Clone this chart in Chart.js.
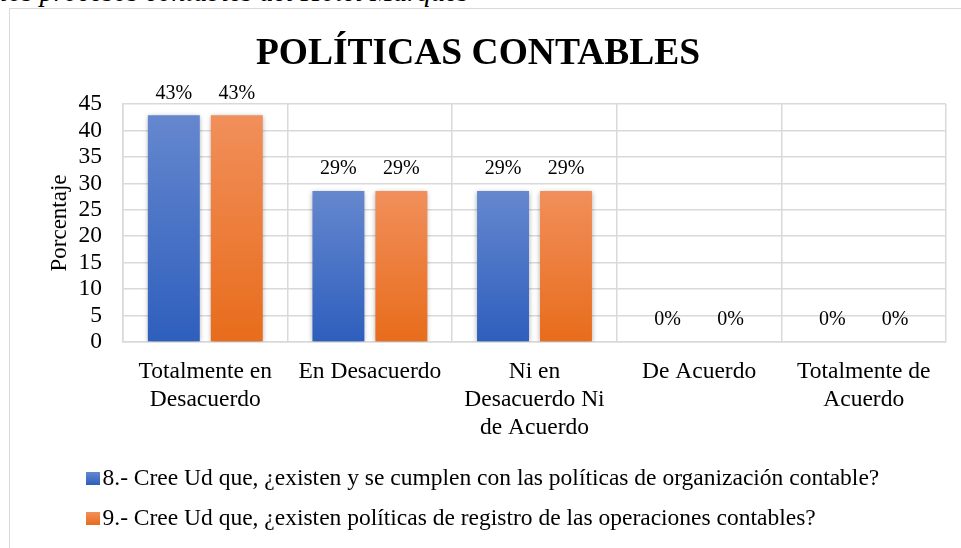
<!DOCTYPE html>
<html>
<head>
<meta charset="utf-8">
<title>Políticas contables</title>
<script src="https://cdn.jsdelivr.net/npm/chart.js"></script>
<style>
  body { margin: 0; background: #fff; overflow: hidden; width: 961px; height: 548px; position: relative; }
  .caption { position: absolute; left: 0; top: -23px; font: italic 28px/30px "Liberation Serif", "Times New Roman", serif; color: #000; white-space: nowrap; }
  .frame { position: absolute; left: 9px; top: 8px; width: 1000px; height: 600px; border: 1px solid #d9d9d9; background: #fff; }
  .chart_box { position: absolute; left: 10px; top: 9px; width: 965px; height: 539px; }
</style>
</head>
<body>
<div class="caption">los procesos contables del Hotel Marqués</div>
<div class="frame"></div>
<div class="chart_box"><canvas id="myChart"></canvas></div>

<script>
const categories = [
  ['Totalmente en', 'Desacuerdo'],
  'En Desacuerdo',
  ['Ni en', 'Desacuerdo Ni', 'de Acuerdo'],
  'De Acuerdo',
  ['Totalmente de', 'Acuerdo']
];
const seriesNames = [
  '8.- Cree Ud que, ¿existen y se cumplen con las políticas de organización contable?',
  '9.- Cree Ud que, ¿existen políticas de registro de las operaciones contables?'
];
const pregunta8 = [42.86, 28.57, 28.57, 0, 0];
const pregunta9 = [42.86, 28.57, 28.57, 0, 0];
const yMin = 0;
const yMax = 45;
const yStep = 5;

const serif = '"Liberation Serif", "Times New Roman", serif';
const blue = ['#6587ce', '#2e5fbd'];
const orange = ['#f18f5b', '#e86c1b'];

Chart.defaults.font.family = serif;
Chart.defaults.color = '#000';

function barFill(colors)
{
  return function (context) {
    const chart = context.chart;
    if (!chart.chartArea || context.type !== 'data') return colors[1];
    const y = chart.scales.y;
    const top = y.getPixelForValue(context.raw);
    const base = y.getPixelForValue(0);
    if (!(base - top > 1)) return colors[1];
    const g = chart.ctx.createLinearGradient(0, top, 0, base);
    g.addColorStop(0, colors[0]);
    g.addColorStop(1, colors[1]);
    return g;
  };
}

// sombra de las barras + etiquetas de porcentaje
const barExtras = {
  id: 'barExtras',
  beforeDatasetsDraw(chart) {
    const c = chart.ctx;
    c.save();
    c.shadowColor = 'rgba(0,0,0,0.35)';
    c.shadowBlur = 5;
    c.shadowOffsetY = 1;
  },
  afterDatasetsDraw(chart) {
    const c = chart.ctx;
    c.restore();
    c.save();
    c.font = '20px ' + serif;
    c.fillStyle = '#000';
    c.textAlign = 'center';
    c.textBaseline = 'middle';
    chart.data.datasets.forEach((ds, i) => {
      chart.getDatasetMeta(i).data.forEach((bar, j) => {
        c.fillText(Math.round(ds.data[j]) + '%', bar.x, bar.y - 22);
      });
    });
    c.restore();
  }
};

// leyenda alineada a la izquierda, como en el original
const leftLegend = {
  id: 'leftLegend',
  afterDraw(chart) {
    const c = chart.ctx;
    const colors = [blue, orange];
    c.save();
    c.font = '23.5px ' + serif;
    c.textBaseline = 'middle';
    c.textAlign = 'left';
    chart.data.datasets.forEach((ds, i) => {
      const rowY = 470 + i * 40;
      const g = c.createLinearGradient(0, rowY - 7, 0, rowY + 6);
      g.addColorStop(0, colors[i][0]);
      g.addColorStop(1, colors[i][1]);
      c.fillStyle = g;
      c.fillRect(76, rowY - 7, 14, 13);
      c.fillStyle = '#000';
      c.fillText(ds.label, 92.5, rowY);
    });
    c.restore();
  }
};

function show_chart()
{
  const ctx = document.getElementById('myChart');

  const data = {
    labels: categories,
    datasets: [
      {
        label: seriesNames[0],
        data: pregunta8,
        backgroundColor: barFill(blue),
        categoryPercentage: 0.765,
        barPercentage: 0.825
      },
      {
        label: seriesNames[1],
        data: pregunta9,
        backgroundColor: barFill(orange),
        categoryPercentage: 0.765,
        barPercentage: 0.825
      }
    ]
  };

  new Chart(ctx, {
    type: 'bar',
    data: data,
    plugins: [barExtras, leftLegend],
    options: {
      responsive: true,
      maintainAspectRatio: false,
      animation: false,
      layout: { padding: { left: 0, right: 29, top: 0, bottom: 86 } },
      plugins: {
        legend: { display: false },
        tooltip: { enabled: false },
        title: {
          display: true,
          text: 'POLÍTICAS CONTABLES',
          color: '#000',
          font: { size: 37.5, weight: 'bold', lineHeight: 1.2 },
          padding: { top: 23, bottom: 27 }
        }
      },
      scales: {
        x: {
          grid: { color: '#d9d9d9', lineWidth: 1.5, drawTicks: false, offset: true },
          border: { color: '#d9d9d9', width: 1.5 },
          ticks: {
            autoSkip: false,
            maxRotation: 0,
            padding: 16,
            font: { size: 23.5, lineHeight: 1.19 }
          },
          afterFit(scale) { scale.height = 120; }
        },
        y: {
          min: yMin,
          max: yMax,
          grid: { color: '#d9d9d9', lineWidth: 1.5, drawTicks: false },
          border: { color: '#d9d9d9', width: 1.5 },
          ticks: { stepSize: yStep, autoSkip: false, padding: 21, font: { size: 23.5 } },
          title: {
            display: true,
            text: 'Porcentaje',
            font: { size: 23, lineHeight: 1.2 },
            padding: { top: 35.7, bottom: 0 }
          },
          afterFit(scale) { scale.width = 113; }
        }
      }
    }
  });
}

show_chart();
</script>
</body>
</html>
